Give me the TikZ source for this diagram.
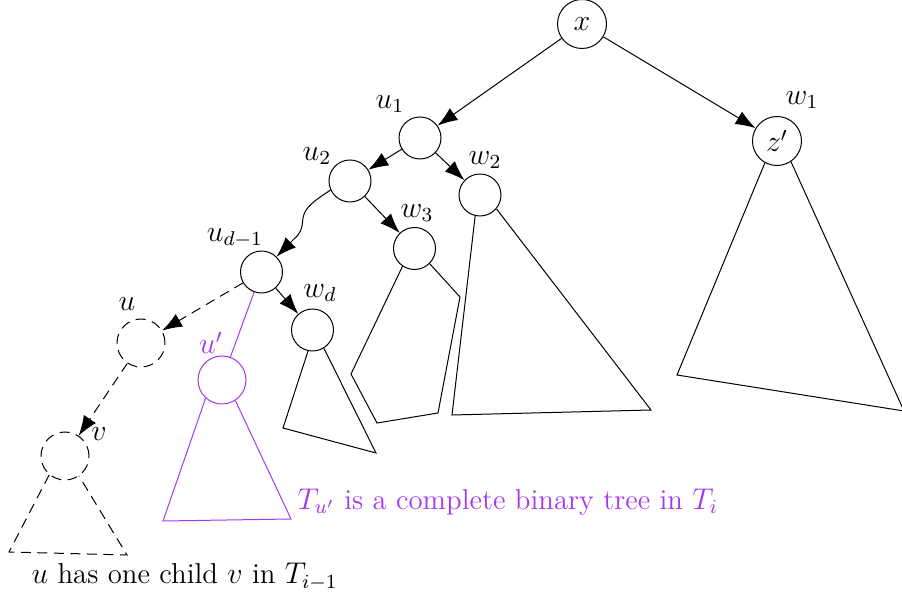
\documentclass[tikz,border=0pt]{standalone}
\usetikzlibrary{arrows.meta}
\definecolor{pur}{RGB}{165,55,240}
\begin{document}
\begin{tikzpicture}[x=0.4pt,y=-0.4pt,
  every node/.style={font=\fontsize{11.5}{13.8}\selectfont},
  circ/.style={circle,draw,inner sep=0pt,minimum size=16.8pt},
  big/.style={circle,draw,inner sep=0pt,minimum size=19.6pt},
  dsh/.style={dash pattern=on 4pt off 2.6pt},
  dcirc/.style={circle,draw,dsh,inner sep=0pt,minimum size=19.2pt},
  arr/.style={-{Latex[length=8pt,width=5.8pt]}},
  lab/.style={inner sep=0pt}]
\useasboundingbox (0,0) rectangle (902,592);
% nodes
\node[big] (x) at (582,24) {$x$};
\node[big] (z) at (777,141) {$z'$};
\node[circ] (u1) at (420,138) {};
\node[circ] (u2) at (350,181) {};
\node[circ] (w2) at (480,195) {};
\node[circ] (w3) at (414.5,248.5) {};
\node[circ] (ud) at (261.5,272) {};
\node[circ] (wd) at (312.5,330) {};
\node[dcirc] (u) at (141,343) {};
\node[dcirc] (v) at (65,456) {};
\node[circle,draw=pur,inner sep=0pt,minimum size=19.2pt] (up) at (222,380) {};
% labels
\node[lab] (lu1) at (390,104) {$u_1$};
\node[lab] (lu2) at (317,156) {$u_2$};
\node[lab] (lw2) at (485,160) {$w_2$};
\node[lab] (lw3) at (417,213) {$w_3$};
\node[lab] (lud) at (235,238) {$u_{d-1}$};
\node[lab] (lwd) at (320,293) {$w_d$};
\node[lab] (lu) at (127,304) {$u$};
\node[lab,text=pur] (lup) at (211,343) {$u'$};
\node[lab] (lv) at (99,434) {$v$};
\node[lab] (lw1) at (802,100) {$w_1$};
% edges
\draw[arr] (x) -- (u1);
\draw[arr] (x) -- (z);
\draw[arr] (u1) -- (u2);
\draw[arr] (u1) -- (w2);
\draw[arr] (u2) -- (w3);
\draw[arr] (u2.-155) .. controls (314,201) and (305,207) .. (303,218)
   .. controls (302,230) and (300,234) .. (294,239) -- (ud);
\draw[arr] (ud) -- (wd);
\draw[arr,dsh] (ud) -- (u);
\draw[arr,dsh] (u) -- (v);
\draw[pur] (ud) -- (up);
% subtrees
\draw (z.-119) -- (677,375) -- (904,411) -- (z.-56);
\draw (w2.-103) -- (452,415) -- (651,410) -- (w2.-40);
\draw (w3.-124) -- (351,374) -- (377,423) -- (438,413) -- (460,297) -- (w3.-45);
\draw (wd.-102) -- (283,428) -- (376,453) -- (wd.-58);
\draw[pur] (up.-132) -- (163,521) -- (291,519) -- (up.-57);
\draw[dsh] (v.-130) -- (9,552) -- (127,555) -- (v.-55);
% captions
\node[anchor=west,inner sep=0pt,text=pur] (c1) at (297,502) {$T_{u'}$ is a complete binary tree in $T_i$};
\node[anchor=west,inner sep=0pt] (c2) at (31,577) {$u$ has one child $v$ in $T_{i-1}$};
\end{tikzpicture}
\end{document}
